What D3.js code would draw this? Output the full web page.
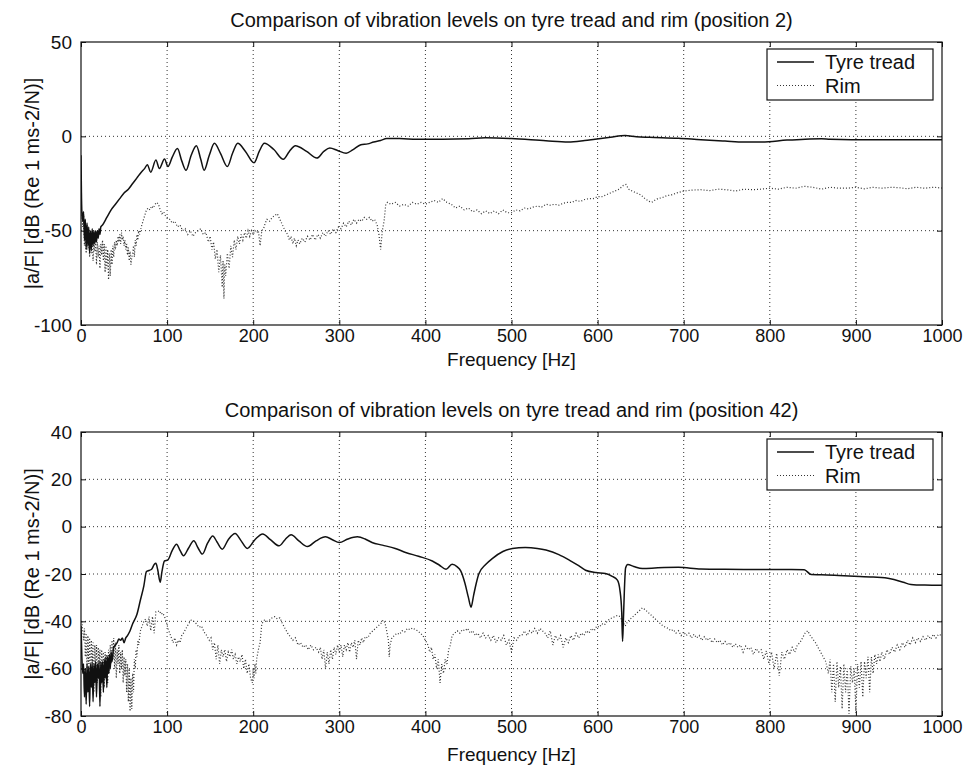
<!DOCTYPE html>
<html>
<head>
<meta charset="utf-8">
<script src="https://cdn.jsdelivr.net/npm/d3@7"></script>
<style>
  body { margin: 0; background: #fff; }
  svg { display: block; }
  text { font-family: "Liberation Sans", Arial, sans-serif; fill: #111; }
</style>
</head>
<body>
<svg id="chart"></svg>
<script>
const width = 970;
const height = 774;

const freqTicks = [0, 100, 200, 300, 400, 500, 600, 700, 800, 900, 1000];
const yTicksTop = [-100, -50, 0, 50];
const yTicksBottom = [-80, -60, -40, -20, 0, 20, 40];
const seriesNames = ["Tyre tread", "Rim"];
const titles = [
  "Comparison of vibration levels on tyre tread and rim (position 2)",
  "Comparison of vibration levels on tyre tread and rim (position 42)"
];
const xLabel = "Frequency [Hz]";
const yLabel = "|a/F| [dB (Re 1 ms-2/N)]";

// [frequency Hz, level dB]
const tyreTop = [[0,-10],[0.5,-30],[1,-40],[2,-45],[3,-40],[4,-55],[5,-44],[6,-60],[7,-46],[8,-58],[9,-48],[10,-62],
  [11,-50],[12,-60],[13,-49],[14,-58],[15,-50],[16,-57],[17,-50],[18,-56],[19,-50],[20,-54],[21,-49],[22,-52],[23,-48],
  [25,-47],[30,-43],[35,-39],[40,-36],[45,-33],[50,-30],[55,-28],[60,-25],[65,-22],[70,-19],[74,-17],[77,-15],[81,-19],
  [87,-12.6],[91,-17],[97,-12],[101,-16],[106,-11],[112,-6.5],[117,-13],[122,-18],[128,-10],[134,-5],[139,-12],[143,-18],
  [149,-10],[155,-3.7],[162,-9],[170,-16],[176,-9],[182,-3.7],[191,-8],[201,-14],[207,-8],[213,-3.7],[224,-7],[235,-12.2],
  [242,-8],[249,-5],[262,-8],[274,-11.5],[282,-8],[289,-6.2],[298,-7.5],[308,-9],[316,-7],[325,-4.5],[333,-4],[340,-3],
  [348,-2.2],[355,-1.2],[370,-1.2],[390,-1.5],[420,-1.5],[450,-1.3],[470,-0.8],[500,-1.2],[540,-2.4],[566,-3],[585,-2.2],
  [597,-1.5],[615,-0.5],[632,0.4],[645,-0.2],[660,-0.5],[694,-1],[720,-1.8],[748,-2.5],[770,-3],[791,-3],[820,-2],
  [841,-1.5],[860,-1.3],[870,-1.6],[895,-1.8],[950,-1.8],[1000,-1.8]];

const rimTop = [[1,-40],[2,-48],[3,-42],[4,-58],[5,-45],[6,-62],[7,-47],[8,-60],[9,-50],[10,-64],[11,-52],[12,-62],
  [13,-50],[14,-66],[15,-54],[16,-61],[17,-55],[18,-68],[19,-56],[20,-64],[21,-58],[22,-70],[23,-57],[24,-63],[25,-55],
  [26,-66],[27,-57],[28,-72],[29,-58],[30,-70],[31,-60],[32,-76],[33,-62],[34,-74],[35,-60],[36,-68],[37,-58],[38,-64],
  [39,-56],[40,-60],[41,-55],[42,-58],[43,-53],[44,-56],[45,-52],[46,-57],[47,-51],[48,-55],[49,-53],[50,-58],[51,-55],
  [52,-60],[53,-57],[54,-63],[55,-59],[56,-66],[57,-61],[58,-68],[59,-64],[60,-62],[61,-58],[62,-64],[63,-55],[64,-58],
  [65,-52],[66,-55],[67,-50],[68,-52],[70,-48],[72,-45],[74,-42],[76,-39],[78,-38],[80,-39],[82,-37],[84,-38],[86,-36],
  [88,-35],[90,-36],[92,-39],[94,-41],[96,-40],[98,-42],[100,-43],[103,-44],[106,-46],[109,-45],[112,-48],[115,-47],
  [118,-50],[121,-49],[124,-52],[127,-50],[130,-53],[133,-51],[136,-50],[139,-49],[142,-52],[145,-51],[148,-56],[150,-53],
  [152,-60],[154,-56],[156,-65],[158,-60],[160,-72],[162,-63],[164,-80],[165,-66],[166,-86],[167,-68],[168,-74],[170,-62],
  [172,-70],[174,-58],[176,-64],[178,-55],[180,-60],[182,-53],[184,-57],[186,-52],[188,-55],[190,-51],[192,-54],[194,-50],
  [196,-53],[198,-50],[200,-52],[202,-50],[204,-51],[206,-50],[208,-58],[210,-50],[212,-49],[214,-46],[216,-44],[219,-45],
  [222,-43],[225,-42],[228,-41],[231,-44],[234,-47],[237,-50],[240,-52],[242,-55],[244,-53],[246,-57],[248,-54],[250,-58],
  [252,-55],[254,-57],[257,-54],[260,-56],[263,-53],[266,-55],[269,-52],[272,-55],[275,-52],[278,-54],[281,-51],[284,-53],
  [287,-50],[290,-52],[293,-49],[296,-51],[299,-48],[302,-49],[305,-46],[308,-48],[311,-45],[314,-47],[317,-44],[320,-46],
  [323,-44],[326,-45],[329,-43],[332,-44],[335,-43],[338,-45],[341,-44],[344,-47],[346,-52],[348,-60],[350,-50],[352,-45],
  [354,-36],[356,-35],[360,-36],[365,-35],[370,-37],[375,-36],[380,-37],[385,-35],[390,-36],[395,-35],[400,-36],[405,-35],
  [410,-34],[415,-35],[420,-33],[425,-35],[430,-36],[435,-38],[440,-37],[445,-39],[450,-38],[455,-40],[460,-39],[465,-41],
  [470,-39.5],[475,-41],[480,-39.5],[485,-41],[490,-39],[495,-40.5],[500,-40.5],[505,-39],[510,-39.5],[515,-38],[520,-38.5],
  [525,-37.5],[530,-37],[535,-37.5],[540,-36],[545,-36.5],[550,-36],[555,-36.5],[560,-35.5],[565,-35],[570,-35],[575,-34],
  [580,-34.5],[585,-33.5],[590,-33],[595,-33],[600,-32],[605,-32],[610,-31],[615,-30],[620,-29],[625,-28],[630,-26],
  [633,-25.5],[636,-28],[640,-29],[645,-30],[650,-31],[655,-33],[660,-34.5],[663,-35],[666,-34],[670,-33],[675,-32.5],
  [680,-31.5],[686,-31],[692,-30],[700,-29],[710,-28.5],[720,-28.3],[730,-28.8],[740,-28],[750,-28.3],[760,-29],[770,-28],
  [780,-28.3],[790,-28],[800,-27.5],[810,-28],[820,-27],[830,-27.5],[840,-26.5],[850,-27],[860,-28],[870,-27],[880,-27.5],
  [890,-27.5],[900,-27],[910,-27.8],[920,-27],[930,-27.5],[940,-27],[950,-27.2],[960,-27.8],[970,-27],[980,-27.5],
  [990,-27],[1000,-27.4]];

const tyreBottom = [[0,-42],[1,-55],[2,-62],[3,-58],[4,-72],[5,-60],[6,-75],[7,-58],[8,-70],[9,-59],[10,-76],[11,-58],
  [12,-68],[13,-57],[14,-74],[15,-58],[16,-66],[17,-57],[18,-72],[19,-58],[20,-64],[21,-57],[22,-76],[23,-57],[24,-66],
  [25,-57],[26,-70],[27,-56],[28,-64],[29,-55],[30,-68],[31,-55],[32,-62],[33,-54],[34,-60],[35,-53],[36,-57],[38,-51],
  [40,-50],[42,-49],[44,-47.5],[46,-48],[48,-47],[50,-49],[52,-47],[54,-46],[57,-44],[60,-41],[65,-37],[69,-31],[73,-25],
  [76,-19],[79,-18.5],[82,-18],[85,-16],[87,-15.5],[89,-18],[92,-23.5],[94,-19],[97,-14.5],[101,-14],[106,-10],[111,-7.4],
  [115,-10],[119,-12.3],[125,-9],[131,-6],[136,-9],[141,-11.6],[147,-7],[153,-3.9],[158,-6.5],[164,-9.5],[171,-5.5],
  [179,-2.9],[186,-6],[193,-9.2],[202,-5.5],[211,-3.1],[220,-5.5],[230,-8.1],[237,-5.5],[244,-3.4],[253,-6],[263,-8.4],
  [273,-6],[284,-4.3],[292,-5.5],[300,-6.7],[310,-5.2],[321,-4.3],[330,-5.2],[338,-6.7],[350,-7.8],[365,-9.2],[377,-10.9],
  [392,-12.5],[408,-14.5],[416,-16.2],[424,-18],[431,-15.9],[437,-17],[441,-18.7],[446,-24],[450,-30],[453,-34],[456,-29],
  [459,-24],[462,-20],[470,-16],[478,-13.4],[490,-10.5],[501,-9.2],[516,-8.8],[530,-9.2],[540,-9.9],[555,-11.8],[567,-14.1],
  [578,-16.5],[586,-18.4],[598,-19.4],[609,-19.8],[617,-21],[623,-22.6],[626,-27],[628,-36],[629,-48.5],[630,-39],
  [631,-28],[632.5,-17.5],[635,-16],[642,-16.8],[652,-17.7],[670,-17.4],[694,-17.2],[720,-17.9],[741,-18],[770,-18.1],
  [800,-18.1],[825,-18.1],[840,-18.2],[848,-20.2],[860,-20.3],[880,-20.6],[898,-20.9],[920,-21.3],[940,-22],[955,-23.5],
  [964,-24.4],[980,-24.7],[1000,-24.8]];

const rimBottom = [[1,-40],[2,-44],[3,-48],[4,-43],[5,-55],[6,-45],[7,-60],[8,-46],[9,-58],[10,-47],[11,-64],[12,-48],
  [13,-57],[14,-49],[15,-70],[16,-50],[17,-60],[18,-50],[19,-66],[20,-51],[21,-58],[22,-52],[23,-72],[24,-52],[25,-62],
  [26,-53],[27,-68],[28,-53],[29,-60],[30,-54],[31,-66],[32,-52],[33,-62],[34,-50],[35,-58],[36,-48],[37,-56],[38,-47],
  [39,-60],[40,-49],[41,-64],[42,-52],[43,-58],[44,-50],[45,-62],[46,-53],[47,-60],[48,-52],[49,-66],[50,-55],[51,-63],
  [52,-56],[53,-70],[54,-58],[55,-74],[56,-60],[57,-78],[58,-64],[59,-77],[60,-62],[61,-70],[62,-56],[63,-60],[64,-52],
  [65,-55],[66,-48],[67,-50],[69,-44],[71,-42],[73,-40],[75,-39],[77,-42],[79,-38],[81,-44],[83,-38],[85,-45],[87,-36],
  [89,-36],[91,-35.5],[93,-37],[95,-36.5],[97,-38],[99,-40],[101,-43],[103,-45],[105,-47],[107,-49],[109,-47],[111,-50],
  [113,-48],[115,-49],[117,-46],[119,-45],[122,-43],[125,-41],[128,-39.5],[131,-40],[134,-41],[137,-42.5],[140,-42],
  [143,-44.5],[146,-46],[149,-48],[151,-47],[153,-52],[155,-49],[157,-56],[159,-50],[161,-58],[163,-52],[165,-55],[167,-52],
  [169,-57],[171,-53],[173,-55],[175,-52],[177,-56],[179,-54],[181,-58],[183,-55],[185,-57],[187,-54],[189,-60],[191,-56],
  [193,-62],[195,-58],[197,-64],[199,-66],[200,-60],[201,-64],[202,-58],[203,-62],[204,-56],[206,-52],[208,-49],[210,-41],
  [213,-39.5],[216,-40],[219,-39.5],[222,-38.5],[225,-38],[228,-39],[231,-38.5],[234,-41],[237,-43],[240,-45],[243,-46.5],
  [246,-48],[249,-47],[252,-50],[255,-49],[258,-51],[261,-50],[264,-52],[267,-50],[270,-52],[273,-51],[276,-53],[278,-51],
  [280,-56],[282,-52],[284,-60],[286,-53],[288,-58],[290,-52],[292,-56],[294,-51],[296,-54],[298,-50],[300,-53],[302,-50],
  [304,-55],[306,-50],[308,-52],[310,-49],[312,-53],[314,-49],[316,-51],[318,-48],[320,-56],[322,-48],[324,-50],[326,-47],
  [328,-49],[330,-46.5],[333,-47],[336,-45],[339,-44],[342,-43],[345,-42],[348,-41],[351,-39.5],[353,-40.5],[355,-44],
  [357,-48],[358,-55],[359,-50],[361,-47],[364,-46],[367,-45],[370,-45.5],[373,-44],[376,-44.5],[379,-43],[382,-43.5],
  [385,-42.8],[388,-43.5],[391,-44],[394,-45],[397,-46],[400,-48],[403,-50],[405,-53],[407,-51],[409,-56],[411,-54],
  [413,-60],[415,-56],[417,-66],[419,-58],[421,-62],[423,-56],[425,-58],[427,-52],[429,-50],[431,-46],[434,-45],[437,-44],
  [440,-45],[443,-43.5],[446,-44],[449,-43],[452,-45],[455,-44],[458,-46],[461,-45],[464,-47],[467,-45],[470,-47],[473,-46],
  [476,-48],[479,-46],[482,-49],[485,-47],[488,-48],[491,-46],[494,-50],[497,-48],[500,-53],[503,-47],[506,-48],[509,-46],
  [512,-46],[515,-44],[518,-46],[521,-44],[524,-45],[527,-43],[530,-45],[533,-43],[536,-44],[539,-45],[542,-47],[545,-44],
  [548,-50],[551,-46],[554,-48],[557,-46],[560,-51],[563,-47],[566,-49],[569,-46],[572,-48],[575,-45],[578,-47],[581,-45],
  [584,-46],[587,-44],[590,-45],[593,-43],[596,-44],[599,-42],[602,-42.5],[605,-41],[608,-41.5],[611,-40],[614,-39],
  [617,-38.5],[620,-38],[623,-37.5],[626,-38],[629,-40],[632,-42],[635,-40],[638,-39],[641,-38],[644,-37],[647,-36],
  [650,-35],[652,-34.3],[655,-35],[658,-36],[661,-37],[664,-38],[667,-39],[670,-40],[673,-41],[676,-42],[679,-42.5],
  [682,-43],[685,-44],[688,-43.5],[691,-45],[694,-44],[697,-46],[700,-44.5],[703,-46],[706,-45],[709,-47],[712,-45.5],
  [715,-47],[718,-46],[721,-48],[724,-46.5],[727,-48],[730,-47],[733,-49],[736,-47.5],[739,-49],[742,-48],[745,-50],
  [748,-48.5],[751,-50],[754,-49],[757,-51],[760,-49.5],[763,-51],[766,-50],[769,-53],[772,-50.5],[775,-52],[778,-51],
  [781,-54],[784,-51.5],[787,-53],[790,-52],[793,-56],[796,-52.5],[799,-58],[802,-53],[805,-60],[808,-53.5],[811,-63],
  [814,-53],[817,-56],[820,-52],[823,-54],[826,-51],[829,-53],[832,-50],[835,-49],[838,-47],[841,-45],[844,-44],[847,-46],
  [850,-47.5],[853,-49],[856,-51],[859,-53],[862,-55],[865,-57],[868,-62],[870,-56],[872,-70],[874,-58],[876,-74],
  [878,-57],[880,-68],[882,-59],[884,-77],[886,-58],[888,-70],[890,-60],[892,-79],[894,-59],[896,-66],[898,-60],[900,-78],
  [902,-58],[904,-68],[906,-57],[908,-72],[910,-57],[912,-64],[914,-55],[916,-70],[918,-55],[920,-62],[922,-54],[924,-58],
  [926,-54],[928,-57],[930,-53],[933,-56],[936,-52],[939,-54],[942,-51],[945,-53],[948,-50],[951,-52],[954,-49],[957,-51],
  [960,-48],[963,-50],[966,-47],[969,-49],[972,-47],[975,-48.5],[978,-46.5],[981,-48],[984,-46],[987,-47.5],[990,-45.5],
  [993,-47],[996,-45.5],[1000,-46]];

const svg = d3.select('#chart')
    .attr('width', width).attr('height', height);

svg.append('rect').attr('width', width).attr('height', height).attr('fill', '#fff');

drawPanel({ id: 'p1', top: 42, bottom: 325, yDomain: [-100, 50], yTicks: yTicksTop,
            title: titles[0], tyre: tyreTop, rim: rimTop, labelGap: 41 });
drawPanel({ id: 'p2', top: 432, bottom: 716, yDomain: [-80, 40], yTicks: yTicksBottom,
            title: titles[1], tyre: tyreBottom, rim: rimBottom, labelGap: 45 });

function drawPanel(p) {
    const left = 81, right = 942;
    const x = d3.scaleLinear().domain([0, 1000]).range([left, right]);
    const y = d3.scaleLinear().domain(p.yDomain).range([p.bottom, p.top]);
    const g = svg.append('g');

    // dotted grid
    g.append('g').selectAll('line')
        .data(freqTicks.slice(1, -1)).join('line')
        .attr('x1', d => x(d)).attr('x2', d => x(d))
        .attr('y1', p.top).attr('y2', p.bottom)
        .attr('stroke', '#333').attr('stroke-width', 1).attr('stroke-dasharray', '1,3');
    g.append('g').selectAll('line')
        .data(p.yTicks.slice(1, -1)).join('line')
        .attr('x1', left).attr('x2', right)
        .attr('y1', d => y(d)).attr('y2', d => y(d))
        .attr('stroke', '#333').attr('stroke-width', 1).attr('stroke-dasharray', '1,3');

    svg.append('clipPath').attr('id', 'clip-' + p.id)
        .append('rect').attr('x', left).attr('y', p.top)
        .attr('width', right - left).attr('height', p.bottom - p.top);

    const line = d3.line().x(d => x(d[0])).y(d => y(d[1]));
    const plot = g.append('g').attr('clip-path', `url(#clip-${p.id})`);

    plot.append('path')
        .datum(p.rim)
        .attr('d', line.curve(d3.curveLinear))
        .attr('fill', 'none')
        .attr('stroke', '#333')
        .attr('stroke-width', 1.2)
        .attr('stroke-dasharray', '1,2');

    plot.append('path')
        .datum(p.tyre)
        .attr('d', line.curve(d3.curveMonotoneX))
        .attr('fill', 'none')
        .attr('stroke', '#111')
        .attr('stroke-width', 1.5);

    // axes with inward ticks, boxed like MATLAB
    const fmt = d => String(d);
    const xAxis = g.append('g').attr('transform', `translate(0,${p.bottom})`)
        .call(d3.axisBottom(x).tickValues(freqTicks).tickSize(-5).tickPadding(4).tickFormat(fmt));
    g.append('g').attr('transform', `translate(0,${p.top})`)
        .call(d3.axisTop(x).tickValues(freqTicks).tickSize(-5).tickFormat(''));
    const yAxis = g.append('g').attr('transform', `translate(${left},0)`)
        .call(d3.axisLeft(y).tickValues(p.yTicks).tickSize(-5).tickPadding(9).tickFormat(fmt));
    g.append('g').attr('transform', `translate(${right},0)`)
        .call(d3.axisRight(y).tickValues(p.yTicks).tickSize(-5).tickFormat(''));

    g.selectAll('.domain').remove();
    g.selectAll('.tick line').attr('stroke', '#111');
    xAxis.selectAll('text').style('font-size', '18px').attr('fill', '#111');
    yAxis.selectAll('text').style('font-size', '19px').attr('fill', '#111');

    g.append('rect')
        .attr('x', left).attr('y', p.top)
        .attr('width', right - left).attr('height', p.bottom - p.top)
        .attr('fill', 'none').attr('stroke', '#111').attr('stroke-width', 1.2);

    g.append('text')
        .attr('x', (left + right) / 2).attr('y', p.top - 15)
        .attr('text-anchor', 'middle').style('font-size', '20px')
        .text(p.title);

    g.append('text')
        .attr('x', (left + right) / 2).attr('y', p.bottom + p.labelGap)
        .attr('text-anchor', 'middle').style('font-size', '19px')
        .text(xLabel);

    g.append('text')
        .attr('transform', `translate(39,${(p.top + p.bottom) / 2}) rotate(-90)`)
        .attr('text-anchor', 'middle').style('font-size', '20px')
        .text(yLabel);

    // legend
    const lg = g.append('g').attr('transform', `translate(${right - 175},${p.top + 7})`);
    lg.append('rect').attr('width', 166).attr('height', 51)
        .attr('fill', '#fff').attr('stroke', '#111').attr('stroke-width', 1.2);
    const styles = [
        { stroke: '#111', width: 1.5, dash: null },
        { stroke: '#333', width: 1.2, dash: '1,2' }
    ];
    seriesNames.forEach((name, i) => {
        const yy = 13 + i * 23.5;
        lg.append('line').attr('x1', 10).attr('x2', 47).attr('y1', yy).attr('y2', yy)
            .attr('stroke', styles[i].stroke).attr('stroke-width', styles[i].width)
            .attr('stroke-dasharray', styles[i].dash);
        lg.append('text').attr('x', 58).attr('y', yy + 7)
            .style('font-size', '20px').text(name);
    });
}
</script>
</body>
</html>
